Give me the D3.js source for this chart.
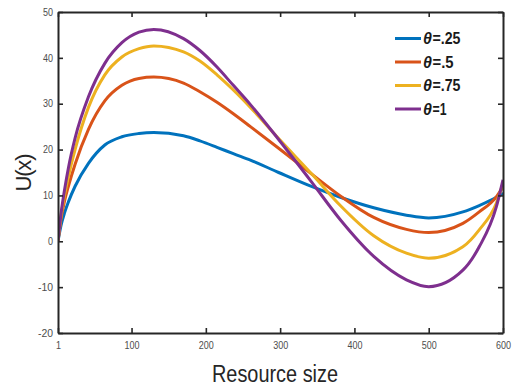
<!DOCTYPE html>
<html>
<head>
<meta charset="utf-8">
<script src="https://cdn.jsdelivr.net/npm/d3@7"></script>
<style>
  body { margin: 0; background: #fff; }
  svg { display: block; }
  .axisTxt text { font-family: "Liberation Sans", Arial, sans-serif; font-size: 10px; fill: #4d4d4d; }
</style>
</head>
<body>
<div id="chart"></div>
<script>
const margin = ({top: 12, right: 9, bottom: 54, left: 58})
const width = 512, height = 387

// sampled resource sizes and U(x) readings for each theta
const xs = [1, 5, 10, 15, 24, 42, 64, 87, 110, 130, 170, 192, 215, 237, 260, 298, 343, 381, 426, 470, 500, 546, 568, 591, 600]
const u25 = [0, 3.4, 6.3, 8.6, 12.0, 17.0, 21.0, 22.8, 23.5, 23.7, 23.0, 21.9, 20.5, 19.1, 17.7, 15.0, 11.9, 9.6, 7.3, 5.7, 5.1, 6.4, 7.8, 9.6, 10.5]
const u50 = [0, 4.8, 8.9, 12.0, 16.8, 24.4, 30.6, 34.0, 35.5, 35.8, 34.5, 32.6, 30.3, 27.8, 25.0, 20.3, 14.6, 9.9, 5.2, 2.6, 1.9, 3.9, 6.4, 9.7, 11.9]
const u75 = [0, 5.4, 10.2, 14.1, 20.0, 29.2, 36.3, 40.2, 42.0, 42.6, 41.3, 39.3, 36.3, 33.0, 29.2, 22.4, 14.6, 7.8, 1.2, -2.6, -3.7, -1.2, 2.5, 8.3, 12.6]
const u100 = [0, 5.9, 11.4, 16.0, 22.5, 31.5, 38.8, 43.3, 45.6, 46.2, 44.2, 41.6, 38.0, 34.0, 29.8, 22.2, 12.8, 4.7, -3.3, -8.4, -9.9, -6.3, -1.2, 7.5, 13.4]
const labels = ["=.25", "=.5", "=.75", "=1"]
const colors = ["#0072bd", "#d95319", "#edb120", "#7e2f8e"]
const xTicks = [1, 100, 200, 300, 400, 500, 600]
const yTicks = [-20, -10, 0, 10, 20, 30, 40, 50]

const series = [u25, u50, u75, u100].map((vals, i) => ({
    label: labels[i],
    color: colors[i],
    data: xs.map((x, j) => ({x, y: vals[j]}))
}))

const svg = d3.select("#chart").append("svg")
    .attr("width", width)
    .attr("height", height)

const xScale = d3.scaleLinear()
    .domain([1, 600])
    .range([margin.left, width - margin.right])
const yScale = d3.scaleLinear()
    .domain([-20, 50])
    .range([height - margin.bottom, margin.top])

const line = d3.line()
    .curve(d3.curveMonotoneX)
    .x(d => xScale(d.x))
    .y(d => yScale(d.y))

svg.append("clipPath").attr("id", "clip")
    .append("rect")
    .attr("x", margin.left).attr("y", margin.top)
    .attr("width", width - margin.left - margin.right)
    .attr("height", height - margin.top - margin.bottom)

svg.append("g").attr("clip-path", "url(#clip)")
    .selectAll("path")
    .data(series)
    .join("path")
    .attr("fill", "none")
    .attr("stroke", d => d.color)
    .attr("stroke-width", 3)
    .attr("stroke-linejoin", "round")
    .attr("d", d => line(d.data))

// axes, ticks pointing inward like matlab
const axisStyle = g => {
    g.select(".domain").attr("stroke", "#262626").attr("stroke-width", 2)
    g.selectAll(".tick line").attr("stroke", "#262626").attr("stroke-width", 1.6)
}
const fmt = d => String(d)
const squeeze = g => g.selectAll(".tick text")
    .attr("textLength", d => fmt(d).length * 5)
    .attr("lengthAdjust", "spacingAndGlyphs")

svg.append("g")
    .attr("class", "axisTxt")
    .attr("transform", `translate(0,${height - margin.bottom})`)
    .call(d3.axisBottom(xScale).tickValues(xTicks).tickFormat(fmt).tickSizeInner(-5).tickSizeOuter(0).tickPadding(9))
    .call(axisStyle)
    .call(squeeze)
svg.append("g")
    .attr("class", "axisTxt")
    .attr("transform", `translate(${margin.left},0)`)
    .call(d3.axisLeft(yScale).tickValues(yTicks).tickFormat(fmt).tickSizeInner(-5).tickSizeOuter(0).tickPadding(5))
    .call(axisStyle)
    .call(squeeze)
svg.append("g")
    .attr("transform", `translate(0,${margin.top})`)
    .call(d3.axisTop(xScale).tickValues(xTicks).tickSizeInner(-5).tickSizeOuter(0).tickFormat(""))
    .call(axisStyle)
svg.append("g")
    .attr("transform", `translate(${width - margin.right},0)`)
    .call(d3.axisRight(yScale).tickValues(yTicks).tickSizeInner(-5).tickSizeOuter(0).tickFormat(""))
    .call(axisStyle)

const labelFont = '"Liberation Sans", Arial, sans-serif'
svg.append("text")
    .attr("x", 275)
    .attr("y", 382)
    .attr("text-anchor", "middle")
    .attr("font-family", labelFont)
    .attr("font-size", 23)
    .attr("textLength", 126)
    .attr("lengthAdjust", "spacingAndGlyphs")
    .attr("fill", "#262626")
    .text("Resource size")
svg.append("text")
    .attr("transform", `translate(31,${(margin.top + height - margin.bottom) / 2}) rotate(-90)`)
    .attr("text-anchor", "middle")
    .attr("font-family", labelFont)
    .attr("font-size", 22)
    .attr("textLength", 38)
    .attr("lengthAdjust", "spacing")
    .attr("fill", "#262626")
    .text("U(x)")

const legend = svg.append("g")
    .selectAll("g")
    .data(series)
    .join("g")
    .attr("transform", (d, i) => `translate(395,${38.5 + i * 23.5})`)
legend.append("line")
    .attr("x1", 0).attr("x2", 26)
    .attr("stroke", d => d.color)
    .attr("stroke-width", 3)
legend.append("text")
    .attr("x", 28)
    .attr("dy", "0.36em")
    .attr("font-family", labelFont)
    .attr("font-size", 16)
    .attr("font-weight", "bold")
    .attr("font-style", "italic")
    .attr("fill", "#1a1a1a")
    .text("θ")
legend.append("text")
    .attr("x", 37.5)
    .attr("dy", "0.36em")
    .attr("font-family", labelFont)
    .attr("font-size", 16)
    .attr("font-weight", "bold")
    .attr("textLength", d => d.label.length * 7)
    .attr("lengthAdjust", "spacingAndGlyphs")
    .attr("fill", "#1a1a1a")
    .text(d => d.label)
</script>
</body>
</html>
